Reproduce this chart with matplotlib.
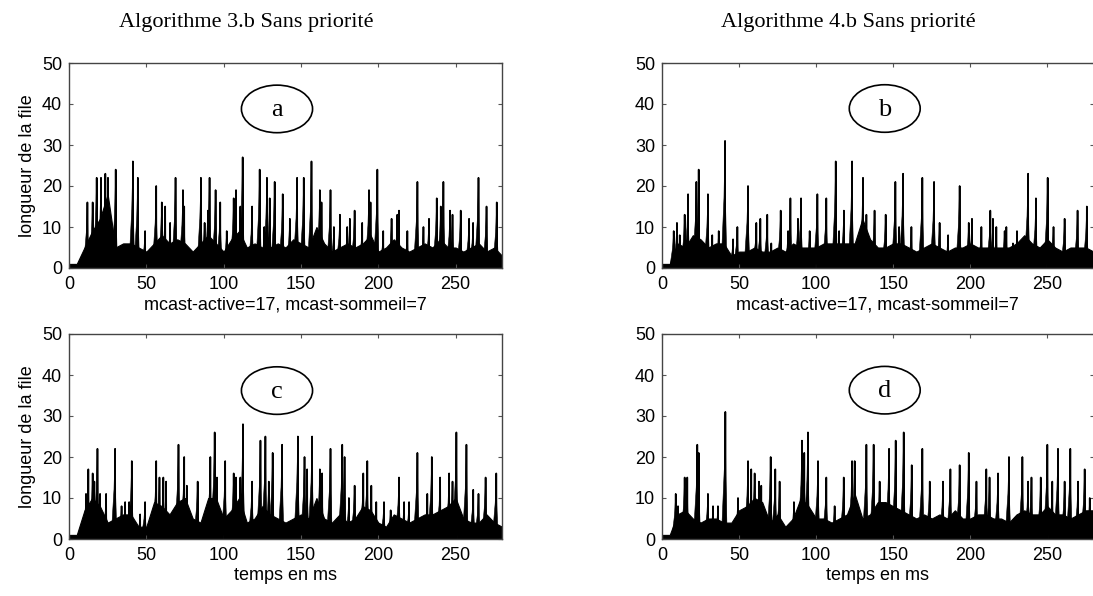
import numpy as np
import matplotlib
matplotlib.use("Agg")
import matplotlib.pyplot as plt
from matplotlib.patches import Ellipse
from matplotlib.collections import LineCollection, PolyCollection

plt.rcParams['font.family'] = ['Liberation Sans', 'DejaVu Sans']

# time grid (ms) for the dense background level of the queue
grid_t = np.arange(0, 281, 5)

# ---- Algorithme 3.b, mcast-active=17, mcast-sommeil=7 (a)
a_spikes = [(11.9, 16), (15.3, 16), (17.9, 22), (20.7, 22), (23.5, 23), (25.2, 22),
            (30.2, 24), (41.3, 26), (44.5, 22), (49.2, 9), (56.4, 20), (60.0, 16),
            (62.2, 15), (65.4, 11), (68.9, 22), (73.7, 19), (74.5, 15), (85.3, 22),
            (87.7, 11), (89.8, 14), (90.9, 22), (94.8, 19), (97.8, 16), (102.0, 9),
            (106.5, 17), (108.0, 19), (110.8, 15), (112.3, 27), (118.4, 15), (123.3, 24),
            (126.3, 10), (128.0, 22), (129.8, 17), (133.0, 21), (138.2, 18), (142.8, 12),
            (147.5, 22), (151.8, 22), (156.8, 26), (162.2, 19), (163.3, 16), (169.1, 19),
            (171.3, 10), (175.2, 13), (179.9, 10), (181.6, 12), (184.7, 14), (189.6, 11),
            (194.0, 19), (195.0, 16), (199.4, 24), (203.2, 9), (208.6, 12), (212.3, 13),
            (213.4, 14), (218.8, 9), (225.3, 21), (229.2, 10), (232.8, 12), (237.8, 17),
            (240.4, 15), (242.1, 21), (246.4, 14), (248.0, 13), (253.3, 14), (258.7, 12),
            (261.3, 11), (264.8, 22), (270.0, 15), (276.6, 16)]
a_level = [1, 1, 5, 9, 12, 18, 5, 6, 6, 5, 4, 6, 8, 6, 7, 6, 4, 6, 8, 6, 4, 7, 9, 5,
           6, 5, 5, 6, 5, 7, 6, 5, 10, 6, 4, 5, 6, 5, 6, 8, 4, 5, 7, 5, 4, 5, 6, 5,
           7, 5, 5, 4, 5, 6, 4, 5, 3]

# ---- Algorithme 4.b, mcast-active=17, mcast-sommeil=7 (b)
b_spikes = [(7.6, 9), (9.7, 11), (11.5, 8), (14.7, 13), (16.9, 18), (22.3, 21),
            (23.8, 24), (29.8, 18), (32.6, 8), (36.8, 9), (40.9, 31), (46.1, 7),
            (48.9, 10), (55.8, 20), (61.2, 11), (63.8, 12), (68.3, 13), (70.9, 6),
            (77.0, 14), (81.8, 9), (83.3, 17), (88.2, 12), (90.2, 17), (95.8, 9),
            (100.8, 18), (106.6, 17), (112.7, 26), (114.9, 9), (118.0, 14), (123.3, 26),
            (130.4, 22), (132.6, 13), (137.9, 14), (145.1, 13), (151.4, 21), (153.8, 10),
            (156.4, 23), (161.8, 10), (168.9, 22), (176.5, 21), (180.1, 11), (185.6, 8),
            (193.1, 20), (199.0, 11), (201.1, 12), (207.2, 10), (213.0, 14), (214.7, 12),
            (216.9, 10), (222.3, 9), (223.4, 10), (227.7, 6), (230.3, 9), (237.5, 23),
            (242.6, 17), (250.2, 22), (254.0, 10), (261.2, 12), (269.6, 14), (275.6, 15)]
b_level = [1, 1, 6, 5, 8, 7, 5, 6, 6, 3, 4, 4, 5, 4, 4, 5, 4, 6, 5, 5, 5, 6, 6, 6,
           6, 6, 12, 7, 5, 5, 6, 6, 5, 4, 5, 6, 5, 4, 5, 5, 6, 5, 5, 5, 5, 5, 6, 8,
           6, 5, 7, 5, 4, 5, 5, 5, 4]

# ---- Algorithme 3.b, second run (c)
c_spikes = [(11.0, 11), (12.5, 17), (15.3, 16), (16.4, 14), (18.4, 22), (20.1, 11),
            (24.0, 11), (29.8, 22), (34.0, 8), (36.3, 9), (38.9, 9), (40.6, 19),
            (46.0, 6), (49.2, 9), (56.4, 19), (58.5, 15), (61.0, 15), (62.8, 14),
            (70.8, 23), (74.5, 20), (76.2, 13), (83.2, 14), (91.4, 20), (94.2, 26),
            (95.7, 15), (101.0, 19), (106.5, 16), (108.0, 15), (110.8, 15), (112.5, 28),
            (118.4, 14), (123.8, 24), (127.0, 25), (129.2, 14), (131.7, 21), (137.8, 23),
            (148.0, 25), (152.3, 20), (154.0, 17), (157.2, 25), (162.2, 17), (163.7, 16),
            (169.1, 22), (176.7, 23), (178.2, 20), (181.0, 10), (184.7, 13), (190.3, 16),
            (192.9, 19), (195.5, 13), (198.7, 9), (203.7, 9), (208.0, 7), (213.4, 15),
            (216.7, 9), (219.9, 9), (225.3, 21), (231.7, 11), (234.6, 20), (240.0, 15),
            (245.8, 16), (248.0, 14), (250.5, 26), (257.0, 23), (261.4, 12), (264.8, 11),
            (269.4, 15), (276.3, 16)]
c_level = [1, 1, 7, 10, 8, 4, 5, 6, 6, 3, 3, 9, 8, 6, 9, 10, 5, 4, 10, 10, 5, 7, 10, 4,
           5, 8, 6, 5, 4, 5, 6, 5, 10, 5, 4, 6, 4, 5, 8, 7, 4, 3, 6, 5, 4, 5, 6, 6,
           7, 8, 10, 5, 4, 4, 6, 4, 3]

# ---- Algorithme 4.b, second run (d)
d_spikes = [(8.9, 11), (10.4, 8), (14.7, 15), (16.4, 15), (22.9, 23), (23.8, 21),
            (29.8, 11), (33.1, 8), (36.3, 8), (41.1, 31), (49.3, 10), (55.8, 19),
            (57.9, 17), (60.1, 16), (62.9, 14), (64.4, 13), (70.5, 20), (73.5, 17),
            (76.3, 14), (85.6, 9), (90.8, 24), (92.3, 21), (94.7, 26), (101.2, 19),
            (106.6, 15), (112.0, 8), (117.9, 15), (123.3, 19), (125.0, 19), (132.6, 23),
            (137.3, 23), (141.2, 14), (147.3, 22), (151.6, 24), (156.8, 26), (162.0, 18),
            (168.9, 22), (173.7, 14), (182.3, 14), (187.1, 17), (193.1, 18), (199.0, 21),
            (204.0, 14), (210.4, 17), (212.5, 15), (218.0, 16), (225.1, 20), (233.8, 20),
            (237.5, 14), (239.7, 15), (245.7, 15), (250.0, 23), (253.2, 14), (256.9, 22),
            (261.2, 14), (264.9, 22), (269.9, 14), (274.2, 17), (277.5, 10)]
d_level = [1, 1, 6, 7, 5, 4, 5, 5, 4, 4, 7, 8, 10, 9, 4, 6, 3, 5, 10, 8, 5, 5, 4, 5,
           6, 11, 5, 6, 9, 9, 8, 7, 6, 5, 6, 5, 6, 5, 7, 5, 5, 6, 6, 5, 5, 4, 6, 7,
           6, 6, 8, 6, 6, 5, 6, 7, 7]

panel_letters = ['a', 'b', 'c', 'd']
titles = ['Algorithme 3.b Sans priorité', 'Algorithme 4.b Sans priorité']
xlabel_top = 'mcast-active=17, mcast-sommeil=7'
xlabel_bottom = 'temps en ms'
ylabel = 'longueur de la file'
x_ticks = [0, 50, 100, 150, 200, 250]
y_ticks = [0, 10, 20, 30, 40, 50]

W, H = 1093, 596
fig = plt.figure(figsize=(W / 100, H / 100), dpi=100)


def px_axes(x0, y0, x1, y1):
    return fig.add_axes([x0 / W, 1 - y1 / H, (x1 - x0) / W, (y1 - y0) / H])


axes = [px_axes(69, 63, 502, 268), px_axes(662, 63, 1093.6, 268),
        px_axes(69, 334, 502, 539), px_axes(662, 334, 1093.6, 539)]

panels = [(a_spikes, a_level), (b_spikes, b_level), (c_spikes, c_level), (d_spikes, d_level)]
label_y = [38.8, 38.9, 36.2, 36.3]
label_x = [134.5, 144.5, 134.5, 144.5]

for i, (ax, (spikes, level)) in enumerate(zip(axes, panels)):
    ax.fill_between(grid_t, 0, level, color='black', linewidth=0.8, edgecolor='black')
    # each burst: the queue ramps up, peaks, then drains quickly
    bodies = [[(t - 2.6, 0), (t - 0.7, h * 0.55), (t, h), (t + 0.35, h * 0.5), (t + 1.2, 0)]
              for t, h in spikes]
    ax.add_collection(PolyCollection(bodies, facecolors='black', edgecolors='black',
                                     linewidths=0.4))
    segs = [[(t - 0.15, 0), (t, h), (t + 0.15, 0)] for t, h in spikes]
    ax.add_collection(LineCollection(segs, colors='black', linewidths=1.2))
    ax.set_xlim(0, 280)
    ax.set_ylim(0, 50)
    ax.set_xticks(x_ticks)
    ax.set_yticks(y_ticks)
    ax.tick_params(direction='in', top=True, right=True, length=3, width=0.8,
                   color='#555555', labelsize=13, pad=5)
    ax.tick_params(axis='x', pad=6)
    for s in ax.spines.values():
        s.set_color('#444444')
        s.set_linewidth(1.0)
    ax.add_patch(Ellipse((label_x[i], label_y[i]), 46, 11.6, fill=False,
                         edgecolor='black', linewidth=1.2))
    ax.text(label_x[i], label_y[i] - 0.3, panel_letters[i], ha='center', va='center',
            family='Liberation Serif', fontsize=19)
    if i < 2:
        ax.set_xlabel(xlabel_top, fontsize=13, labelpad=2)
    else:
        ax.set_xlabel(xlabel_bottom, fontsize=13, labelpad=2)
    if i % 2 == 0:
        ax.set_ylabel(ylabel, fontsize=13, labelpad=4)

fig.text(246.5 / W, 1 - 23 / H, titles[0], ha='center', va='center',
         family='Liberation Serif', fontsize=16)
fig.text(848 / W, 1 - 23 / H, titles[1], ha='center', va='center',
         family='Liberation Serif', fontsize=16)

fig.savefig('out.png', dpi=100)
